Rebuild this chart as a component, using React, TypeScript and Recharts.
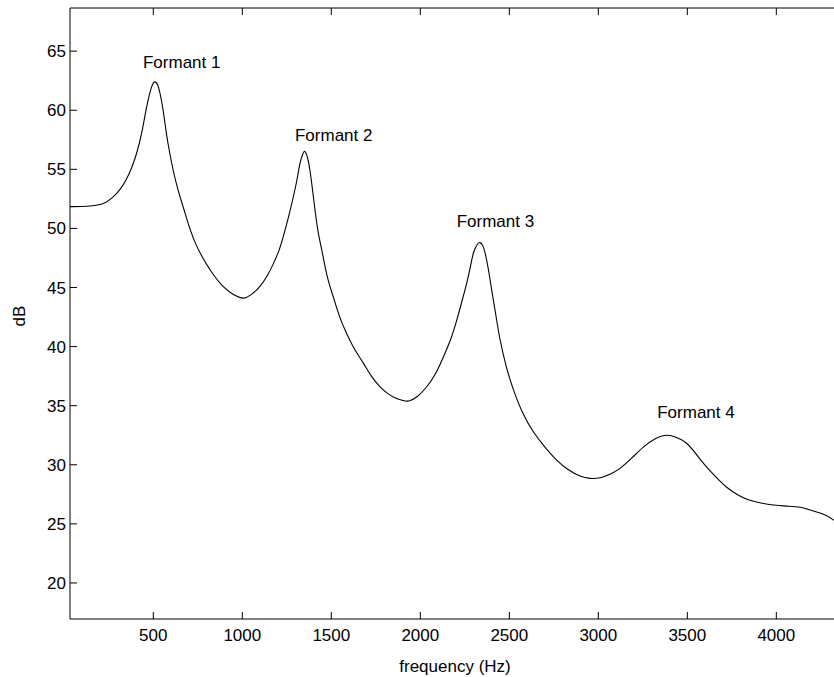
import React from 'react';
import { LineChart, Line, XAxis, YAxis, ReferenceDot } from 'recharts';

// spectrum envelope
const freqs = [
  32, 100, 160, 219, 270, 313, 350, 380, 407, 435, 463, 491, 510, 528, 546, 561, 575, 592, 612, 640,
  668, 705, 744, 790, 837, 885, 931, 970, 1006, 1050, 1099, 1140, 1174, 1205, 1230, 1260, 1287, 1308,
  1324, 1340, 1352, 1366, 1380, 1395, 1408, 1426, 1446, 1476, 1511, 1545, 1586, 1630, 1680, 1725,
  1774, 1820, 1867, 1900, 1935, 1985, 2036, 2085, 2129, 2170, 2204, 2235, 2261, 2282, 2298, 2318,
  2335, 2352, 2369, 2385, 2401, 2425, 2448, 2483, 2522, 2575, 2635, 2700, 2766, 2830, 2897, 2953,
  3010, 3065, 3122, 3190, 3253, 3320, 3384, 3440, 3497, 3555, 3609, 3665, 3721, 3790, 3852, 3920,
  3983, 4060, 4133, 4180, 4227, 4280, 4324,
];
const levels = [
  51.84, 51.85, 51.92, 52.1, 52.6, 53.3, 54.2, 55.2, 56.4, 58.1, 60.3, 62.0, 62.4, 62.0, 60.8, 59.4, 57.9, 56.4, 54.9, 53.2,
  51.8, 50.0, 48.5, 47.2, 46.1, 45.2, 44.6, 44.25, 44.1, 44.4, 45.1, 46.0, 47.0, 48.1, 49.3, 51.0, 52.7, 54.2,
  55.5, 56.3, 56.5, 56.0, 54.9, 53.2, 51.6, 49.7, 48.2, 46.0, 44.2, 42.6, 41.1, 39.8, 38.6, 37.5,
  36.6, 36.0, 35.6, 35.45, 35.4, 35.8, 36.6, 37.7, 39.1, 40.6, 42.2, 43.9, 45.4, 46.8, 47.9, 48.6,
  48.8, 48.5, 47.6, 46.3, 44.8, 42.6, 40.6, 38.3, 36.4, 34.4, 32.8, 31.5, 30.4, 29.6, 29.05, 28.85,
  28.9, 29.2, 29.7, 30.6, 31.5, 32.2, 32.5, 32.3, 31.8, 30.8, 29.8, 28.9, 28.1, 27.4, 27.0, 26.75,
  26.6, 26.5, 26.4, 26.22, 26.0, 25.7, 25.3,
];

const xTicks = [500, 1000, 1500, 2000, 2500, 3000, 3500, 4000];
const yTicks = [20, 25, 30, 35, 40, 45, 50, 55, 60, 65];

// annotation text, anchored at its left baseline
const formantNames = ['Formant 1', 'Formant 2', 'Formant 3', 'Formant 4'];
const formantFreqs = [442, 1296, 2204, 3331];
const formantLevels = [63.54, 57.4, 50.14, 33.93];

const data = freqs.map((f, i) => ({ f, db: levels[i] }));

const FONT = 'Arial, "Liberation Sans", Helvetica, sans-serif';

const YTick = ({ x, y, payload }: any) => (
  <g>
    <line x1={x} x2={x + 7} y1={y} y2={y} stroke="#000" />
    <text x={x - 4} y={y + 6} textAnchor="end" fontSize={17} fontFamily={FONT} fill="#000">
      {payload.value}
    </text>
  </g>
);

const XTick = ({ x, y, payload }: any) => (
  <g>
    <line x1={x} x2={x} y1={y} y2={y - 7} stroke="#000" />
    <text x={x} y={y + 21.5} textAnchor="middle" fontSize={17} fontFamily={FONT} fill="#000">
      {payload.value}
    </text>
  </g>
);

const TopTick = ({ x, y }: any) => <line x1={x} x2={x} y1={y} y2={y + 7} stroke="#000" />;

const FormantLabel = (name: string) => (p: any) => (
  <text x={p.cx} y={p.cy} fontSize={17} fontFamily={FONT} fill="#000">
    {name}
  </text>
);

export default function App() {
  return (
    <div style={{ position: 'absolute', left: 0, top: 0, width: 834, height: 677, overflow: 'hidden', background: '#fff' }}>
      <LineChart width={834} height={677} data={data} margin={{ top: 0, right: 0, bottom: 0, left: 0 }}>
        <XAxis
          dataKey="f"
          type="number"
          domain={[32, 4324]}
          ticks={xTicks}
          allowDataOverflow
          height={58}
          tickSize={0}
          tickMargin={0}
          tick={<XTick />}
          axisLine={{ stroke: '#000' }}
          tickLine={false}
          label={{
            content: () => (
              <text x={455} y={672} textAnchor="middle" fontSize={17} fontFamily={FONT} fill="#000">
                frequency (Hz)
              </text>
            ),
          }}
        />
        <XAxis
          xAxisId="top"
          orientation="top"
          dataKey="f"
          type="number"
          domain={[32, 4324]}
          ticks={xTicks}
          allowDataOverflow
          height={8}
          tickSize={0}
          tickMargin={0}
          tick={<TopTick />}
          axisLine={{ stroke: '#000' }}
          tickLine={false}
        />
        <YAxis
          type="number"
          domain={[16.95, 68.65]}
          ticks={yTicks}
          allowDataOverflow
          width={70}
          tickSize={0}
          tickMargin={0}
          tick={<YTick />}
          axisLine={{ stroke: '#000' }}
          tickLine={false}
          label={{
            content: () => (
              <text x={25} y={316} transform="rotate(-90 25 316)" textAnchor="middle" fontSize={17} fontFamily={FONT} fill="#000">
                dB
              </text>
            ),
          }}
        />
        <Line
          type="natural"
          dataKey="db"
          stroke="#000"
          strokeWidth={1.1}
          dot={false}
          isAnimationActive={false}
        />
        {formantNames.map((name, i) => (
          <ReferenceDot
            key={name}
            x={formantFreqs[i]}
            y={formantLevels[i]}
            r={0}
            ifOverflow="visible"
            shape={FormantLabel(name)}
          />
        ))}
      </LineChart>
    </div>
  );
}
